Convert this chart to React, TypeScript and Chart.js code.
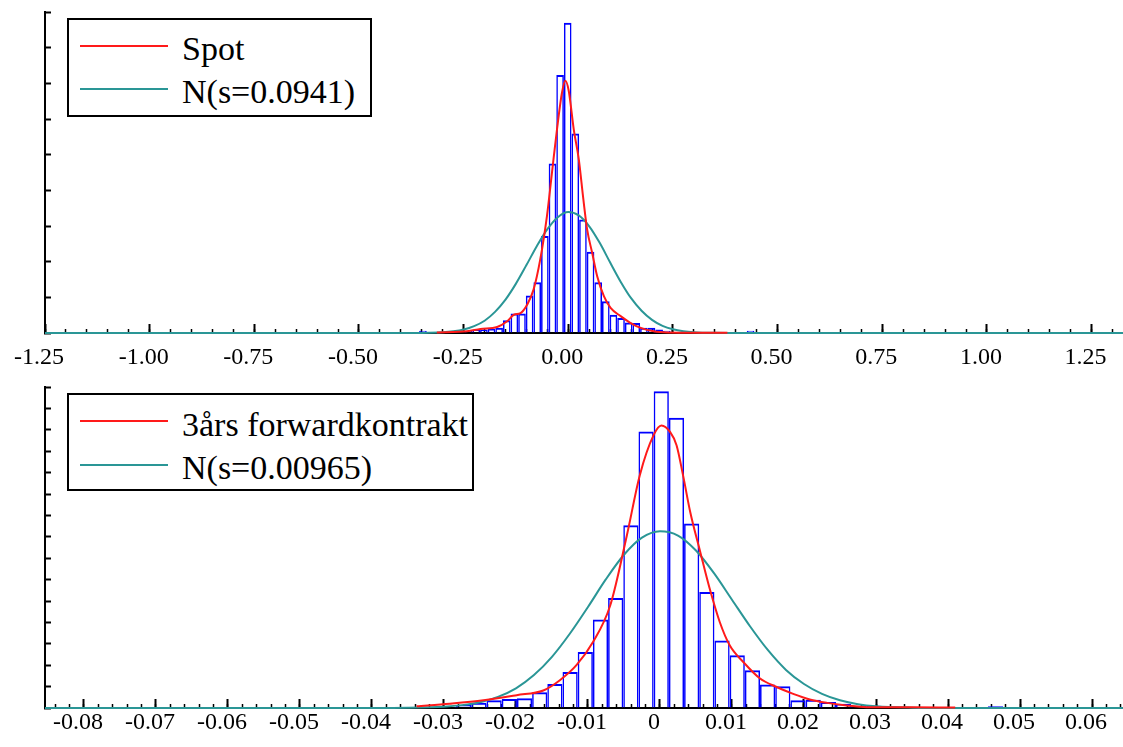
import React, { useEffect, useRef } from 'react';
import { Chart, registerables } from 'chart.js';

Chart.register(...registerables);

// ---------------- Top panel: Spot ----------------
const spotBinCenters = [-0.3472, -0.238, -0.2198, -0.2016, -0.1834, -0.1652, -0.147, -0.1288, -0.1106, -0.0924, -0.0742, -0.056, -0.0378, -0.0196, -0.0014, 0.0168, 0.035, 0.0532, 0.0714, 0.0896, 0.1078, 0.126, 0.1442, 0.1624, 0.1806, 0.1988, 0.217, 0.2352, 0.4354];
const spotBinDensity = [0.08, 0.08, 0.12, 0.12, 0.15, 0.18, 0.45, 0.68, 0.68, 1.31, 1.78, 3.4, 5.94, 9.04, 10.87, 6.99, 3.98, 2.85, 1.78, 1.11, 0.64, 0.53, 0.37, 0.35, 0.18, 0.18, 0.12, 0.08, 0.08];

const spotKdeX = [-0.314, -0.242, -0.21, -0.17, -0.146, -0.13, -0.114, -0.098, -0.083, -0.067, -0.051, -0.039, -0.027, -0.015, -0.007, 0.001, 0.013, 0.025, 0.036, 0.045, 0.057, 0.069, 0.085, 0.101, 0.125, 0.149, 0.173, 0.204, 0.237, 0.3, 0.38];
const spotKdeY = [0.02, 0.06, 0.14, 0.21, 0.41, 0.64, 0.7, 1.0, 1.52, 2.58, 4.1, 5.62, 7.14, 8.43, 8.84, 8.49, 7.14, 6.09, 4.68, 3.63, 2.81, 1.99, 1.29, 0.88, 0.59, 0.35, 0.18, 0.06, 0.02, 0.01, 0.01];

const spotNormX = [-1.25, -0.4, -0.35, -0.3, -0.275, -0.25, -0.225, -0.2, -0.175, -0.15, -0.125, -0.1, -0.075, -0.05, -0.025, 0, 0.025, 0.05, 0.075, 0.1, 0.125, 0.15, 0.175, 0.2, 0.225, 0.25, 0.275, 0.3, 0.35, 0.4, 1.325];
const spotNormY = [0, 0, 0.004, 0.026, 0.058, 0.12, 0.24, 0.43, 0.74, 1.17, 1.73, 2.38, 3.05, 3.64, 4.06, 4.24, 4.12, 3.74, 3.16, 2.47, 1.8, 1.22, 0.78, 0.46, 0.25, 0.13, 0.064, 0.03, 0.005, 0, 0];

const spotTickValues = [-1.25, -1.0, -0.75, -0.5, -0.25, 0, 0.25, 0.5, 0.75, 1.0, 1.25];
const spotTickLabels = ['-1.25', '-1.00', '-0.75', '-0.50', '-0.25', '0.00', '0.25', '0.50', '0.75', '1.00', '1.25'];
const spotLegendLabels = ['Spot', 'N(s=0.0941)'];

// ---------------- Bottom panel: 3-year forward ----------------
const fwdBinCenters = [-0.02936, -0.02725, -0.02514, -0.02303, -0.02092, -0.01881, -0.0167, -0.01459, -0.01248, -0.01037, -0.00826, -0.00615, -0.00404, -0.00193, 0.00018, 0.00229, 0.0044, 0.00651, 0.00862, 0.01073, 0.01284, 0.01495, 0.01706, 0.01917, 0.02128, 0.02339, 0.0255, 0.02761, 0.02972, 0.03183, 0.0466];
const fwdBinDensity = [0.3, 0.7, 1.2, 1.8, 2.1, 2.3, 3.7, 5.6, 8.4, 13.1, 20.7, 25.7, 42.7, 64.6, 74.0, 67.8, 43.1, 27.1, 15.8, 12.3, 8.8, 5.5, 5.1, 1.8, 1.9, 1.4, 1.0, 0.5, 0.5, 0.3, 0.4];

const fwdKdeX = [-0.0338, -0.0292, -0.0245, -0.0199, -0.0162, -0.0139, -0.0116, -0.0093, -0.0069, -0.0046, -0.0028, -0.0009, 0.0002, 0.0014, 0.0023, 0.0032, 0.0042, 0.0056, 0.0069, 0.0083, 0.0097, 0.0116, 0.0139, 0.0162, 0.0185, 0.0208, 0.0232, 0.0259, 0.0287, 0.035, 0.041];
const fwdKdeY = [0.4, 1.0, 1.8, 3.0, 4.1, 6.5, 10.0, 15.4, 24.0, 40.3, 54.4, 63.7, 66.0, 64.5, 61.4, 54.4, 45.8, 36.4, 27.9, 20.1, 14.6, 10.7, 6.9, 4.9, 3.3, 2.0, 1.2, 0.6, 0.2, 0.15, 0.1];

const fwdNormX = [-0.0854, -0.04, -0.035, -0.03, -0.0275, -0.025, -0.0225, -0.02, -0.0175, -0.015, -0.0125, -0.01, -0.0075, -0.005, -0.0025, 0, 0.0025, 0.005, 0.0075, 0.01, 0.0125, 0.015, 0.0175, 0.02, 0.0225, 0.025, 0.0275, 0.03, 0.035, 0.04, 0.0643];
const fwdNormY = [0, 0, 0.05, 0.31, 0.67, 1.36, 2.6, 4.6, 7.7, 11.95, 17.4, 23.6, 30.1, 35.8, 39.8, 41.3, 40.3, 36.8, 31.5, 25.3, 19.1, 13.5, 8.9, 5.6, 3.3, 1.8, 0.9, 0.42, 0.08, 0, 0];

const fwdTickValues = [-0.08, -0.07, -0.06, -0.05, -0.04, -0.03, -0.02, -0.01, 0, 0.01, 0.02, 0.03, 0.04, 0.05, 0.06];
const fwdTickLabels = ['-0.08', '-0.07', '-0.06', '-0.05', '-0.04', '-0.03', '-0.02', '-0.01', '0', '0.01', '0.02', '0.03', '0.04', '0.05', '0.06'];
const fwdLegendLabels = ['3års forwardkontrakt', 'N(s=0.00965)'];

// ---------------- styling ----------------
const BLUE = '#0000ff';
const RED = '#ff1a1a';
const TEAL = '#2a9696';
const SERIF = '"Liberation Serif", "Times New Roman", serif';

const range = (start: number, step: number, count: number) =>
  Array.from({ length: count }, (_, i) => +(start + i * step).toFixed(6));

type PanelProps = {
  top: number;
  height: number;
  padTop: number;
  axisH: number;
  labelPad: number;
  xMin: number;
  xMax: number;
  yMax: number;
  yTicks: number[];
  minorTicks: number[];
  tickValues: number[];
  tickLabels: string[];
  binX: number[];
  binY: number[];
  kdeX: number[];
  kdeY: number[];
  normX: number[];
  normY: number[];
};

function Panel(p: PanelProps) {
  const ref = useRef<HTMLCanvasElement>(null);
  useEffect(() => {
    const zeroPad = (s: any) => {
      s.paddingLeft = 0;
      s.paddingRight = 0;
      s.paddingTop = 0;
      s.paddingBottom = 0;
    };
    const chart = new Chart(ref.current as HTMLCanvasElement, {
      type: 'bar',
      data: {
        datasets: [
          {
            type: 'line',
            xAxisID: 'x',
            yAxisID: 'y',
            data: p.kdeX.map((x, i) => ({ x, y: p.kdeY[i] })),
            borderColor: RED,
            borderWidth: 2,
            pointRadius: 0,
            cubicInterpolationMode: 'monotone',
            clip: false,
            order: 1,
          } as any,
          {
            type: 'line',
            xAxisID: 'x',
            yAxisID: 'y',
            data: p.normX.map((x, i) => ({ x, y: p.normY[i] })),
            borderColor: TEAL,
            borderWidth: 2,
            pointRadius: 0,
            cubicInterpolationMode: 'monotone',
            clip: false,
            order: 2,
          } as any,
          {
            type: 'bar',
            xAxisID: 'x',
            yAxisID: 'y',
            data: p.binX.map((x, i) => ({ x, y: p.binY[i] })),
            backgroundColor: 'rgba(255,255,255,0)',
            borderColor: BLUE,
            borderWidth: { top: 2, left: 1.5, right: 1.5, bottom: 0 },
            borderSkipped: 'start',
            barPercentage: 1,
            categoryPercentage: 1,
            inflateAmount: 0,
            order: 3,
          } as any,
        ],
      },
      options: {
        responsive: false,
        animation: false,
        devicePixelRatio: 1,
        events: [],
        layout: { padding: { left: 45, top: p.padTop, right: 0, bottom: 0 } },
        plugins: { legend: { display: false }, tooltip: { enabled: false } },
        scales: {
          x: {
            type: 'linear',
            position: 'bottom',
            weight: 1,
            offset: false,
            min: p.xMin,
            max: p.xMax,
            afterFit: (s: any) => {
              s.height = p.axisH;
              zeroPad(s);
            },
            afterBuildTicks: (s: any) => {
              s.ticks = p.tickValues.map((v) => ({ value: v }));
            },
            ticks: {
              autoSkip: false,
              maxRotation: 0,
              minRotation: 0,
              padding: p.labelPad,
              labelOffset: -6,
              color: '#000',
              font: { family: SERIF, size: 24 },
              callback: (_v: any, i: number) => p.tickLabels[i],
            },
            grid: {
              display: true,
              offset: false,
              drawOnChartArea: false,
              drawTicks: true,
              tickLength: -9,
              tickWidth: 2,
              tickColor: '#000',
            },
            border: { display: true, color: '#000', width: 2 },
          } as any,
          xm: {
            type: 'linear',
            axis: 'x',
            position: 'bottom',
            weight: 0,
            offset: false,
            min: p.xMin,
            max: p.xMax,
            afterFit: (s: any) => {
              s.height = 0;
              zeroPad(s);
            },
            afterBuildTicks: (s: any) => {
              s.ticks = p.minorTicks.map((v) => ({ value: v }));
            },
            ticks: { display: false },
            grid: {
              display: true,
              offset: false,
              drawOnChartArea: false,
              drawTicks: true,
              tickLength: -4,
              tickWidth: 1.5,
              tickColor: '#000',
            },
            border: { display: false },
          } as any,
          y: {
            type: 'linear',
            position: 'left',
            min: 0,
            max: p.yMax,
            afterFit: (s: any) => {
              s.width = 0;
              zeroPad(s);
            },
            afterBuildTicks: (s: any) => {
              s.ticks = p.yTicks.map((v) => ({ value: v }));
            },
            ticks: { display: false },
            grid: {
              display: true,
              drawOnChartArea: false,
              drawTicks: true,
              tickLength: -6,
              tickWidth: 2,
              tickColor: '#000',
            },
            border: { display: true, color: '#000', width: 2 },
          } as any,
        },
      },
    });
    return () => chart.destroy();
  }, []);
  return (
    <canvas
      ref={ref}
      width={1123}
      height={p.height}
      style={{ position: 'absolute', left: 0, top: p.top, width: 1123, height: p.height }}
    />
  );
}

type LegendProps = {
  left: number;
  top: number;
  width: number;
  height: number;
  labels: string[];
  lineYs: number[];
  textYs: number[];
};

function Legend(l: LegendProps) {
  const colors = [RED, TEAL];
  return (
    <div
      style={{
        position: 'absolute',
        left: l.left,
        top: l.top,
        width: l.width,
        height: l.height,
        boxSizing: 'border-box',
        border: '2px solid #000',
        background: '#fff',
      }}
    >
      {l.labels.map((lab, i) => (
        <React.Fragment key={i}>
          <div
            style={{
              position: 'absolute',
              left: 11,
              top: l.lineYs[i] - l.top - 3,
              width: 88,
              height: 2,
              background: colors[i],
            }}
          />
          <span
            style={{
              position: 'absolute',
              left: 113,
              top: l.textYs[i] - l.top - 2 - 20,
              lineHeight: '40px',
              fontSize: 34,
              fontFamily: SERIF,
              color: '#000',
              whiteSpace: 'nowrap',
            }}
          >
            {lab}
          </span>
        </React.Fragment>
      ))}
    </div>
  );
}

export default function App() {
  return (
    <div
      style={{
        position: 'absolute',
        left: 0,
        top: 0,
        width: 1123,
        height: 747,
        overflow: 'hidden',
        background: '#fff',
      }}
    >
      <Panel
        top={0}
        height={380}
        padTop={12}
        axisH={47}
        labelPad={19}
        xMin={-1.25}
        xMax={1.325}
        yMax={11.25}
        yTicks={range(0, 1.25, 10)}
        minorTicks={range(-1.25, 0.05, 52)}
        tickValues={spotTickValues}
        tickLabels={spotTickLabels}
        binX={spotBinCenters}
        binY={spotBinDensity}
        kdeX={spotKdeX}
        kdeY={spotKdeY}
        normX={spotNormX}
        normY={spotNormY}
      />
      <Panel
        top={380}
        height={367}
        padTop={7}
        axisH={39}
        labelPad={9}
        xMin={-0.0854}
        xMax={0.0643}
        yMax={75}
        yTicks={range(0, 5, 16)}
        minorTicks={range(-0.084, 0.002, 75)}
        tickValues={fwdTickValues}
        tickLabels={fwdTickLabels}
        binX={fwdBinCenters}
        binY={fwdBinDensity}
        kdeX={fwdKdeX}
        kdeY={fwdKdeY}
        normX={fwdNormX}
        normY={fwdNormY}
      />
      <Legend
        left={67}
        top={18}
        width={305}
        height={99}
        labels={spotLegendLabels}
        lineYs={[46, 89]}
        textYs={[49, 92]}
      />
      <Legend
        left={67}
        top={393}
        width={407}
        height={98}
        labels={fwdLegendLabels}
        lineYs={[421, 465]}
        textYs={[425, 468]}
      />
    </div>
  );
}
